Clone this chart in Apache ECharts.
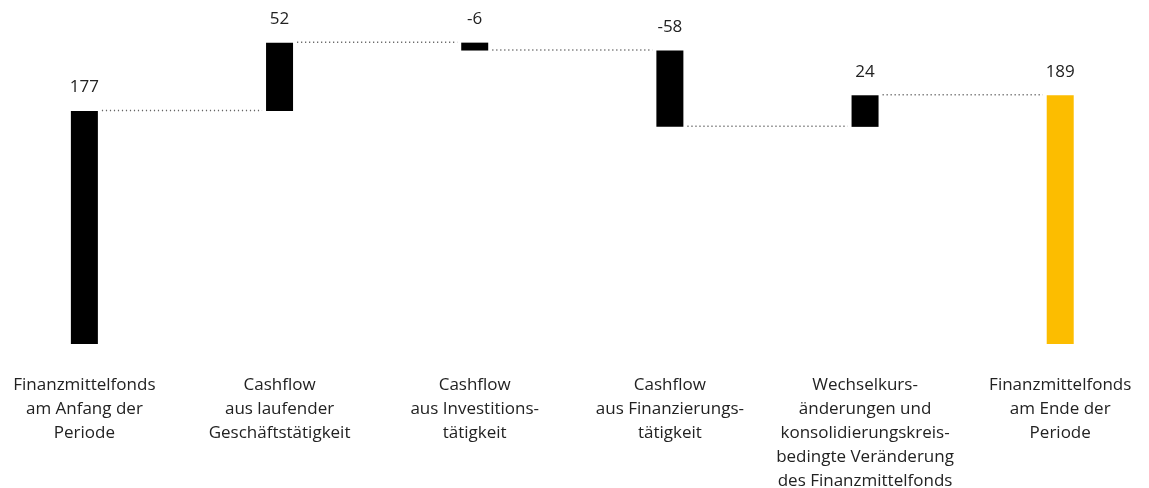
<!DOCTYPE html>
<html>
<head>
<meta charset="utf-8">
<script src="https://cdn.jsdelivr.net/npm/echarts@6/dist/echarts.min.js"></script>
<style>
html,body{margin:0;padding:0;background:#fff;}
#chart{width:1149px;height:488px;}
</style>
</head>
<body>
<div id="chart"></div>
<script>
const categories = [
  'Finanzmittelfonds\nam Anfang der\nPeriode',
  'Cashflow\naus laufender\nGeschäftstätigkeit',
  'Cashflow\naus Investitions-\ntätigkeit',
  'Cashflow\naus Finanzierungs-\ntätigkeit',
  'Wechselkurs-\nänderungen und\nkonsolidierungskreis-\nbedingte Veränderung\ndes Finanzmittelfonds',
  'Finanzmittelfonds\nam Ende der\nPeriode'
];
const values = [177, 52, -6, -58, 24, 189];
const isTotal = [true, false, false, false, false, true];

const FONT = '"Open Sans", "Noto Sans", sans-serif';
const BAR_W = 27;

// build waterfall segments
const base = [], body = [], levels = [];
let run = 0;
values.forEach((v, i) => {
  if (isTotal[i]) {
    base.push(0);
    body.push({ value: v, label: v, itemStyle: { color: i === values.length - 1 ? '#FCBD00' : '#000' } });
    run = v;
  } else {
    const next = run + v;
    base.push(Math.min(run, next));
    body.push({ value: Math.abs(v), label: v, itemStyle: { color: '#000' } });
    run = next;
  }
  levels.push(run);
});
const connectors = levels.slice(0, -1).map((lv, i) => [i, lv]);

const chart = echarts.init(document.getElementById('chart'));
chart.setOption({
  animation: false,
  grid: { left: -13.2, width: 1171, top: 15, bottom: 144, containLabel: false, outerBoundsMode: 'none' },
  xAxis: {
    type: 'category',
    data: categories,
    axisLine: { show: false },
    axisTick: { show: false },
    axisLabel: {
      interval: 0,
      margin: 29,
      color: '#222',
      fontFamily: FONT,
      fontSize: 17,
      lineHeight: 24,
      align: 'center'
    }
  },
  yAxis: {
    type: 'value', min: 0, max: 250,
    show: false, splitLine: { show: false }
  },
  series: [
    {
      type: 'bar', stack: 'wf', data: base, barWidth: BAR_W,
      itemStyle: { color: 'transparent' }, silent: true
    },
    {
      type: 'bar', stack: 'wf', barWidth: BAR_W,
      data: body,
      label: {
        show: true, position: 'top', distance: 15,
        color: '#222', fontFamily: FONT, fontSize: 17,
        formatter: p => String(p.data.label)
      }
    },
    {
      type: 'custom',
      data: connectors,
      silent: true,
      z: 1,
      renderItem: (params, api) => {
        const i = api.value(0), lv = api.value(1);
        const a = api.coord([i, lv]);
        const b = api.coord([i + 1, lv]);
        const half = BAR_W / 2;
        return {
          type: 'line',
          shape: { x1: a[0] + half + 4, y1: a[1] - 0.5, x2: b[0] - half - 4, y2: b[1] - 0.5 },
          style: { stroke: '#666', lineWidth: 1.5, lineDash: [1.2, 2.8] }
        };
      }
    }
  ]
});
</script>
</body>
</html>
